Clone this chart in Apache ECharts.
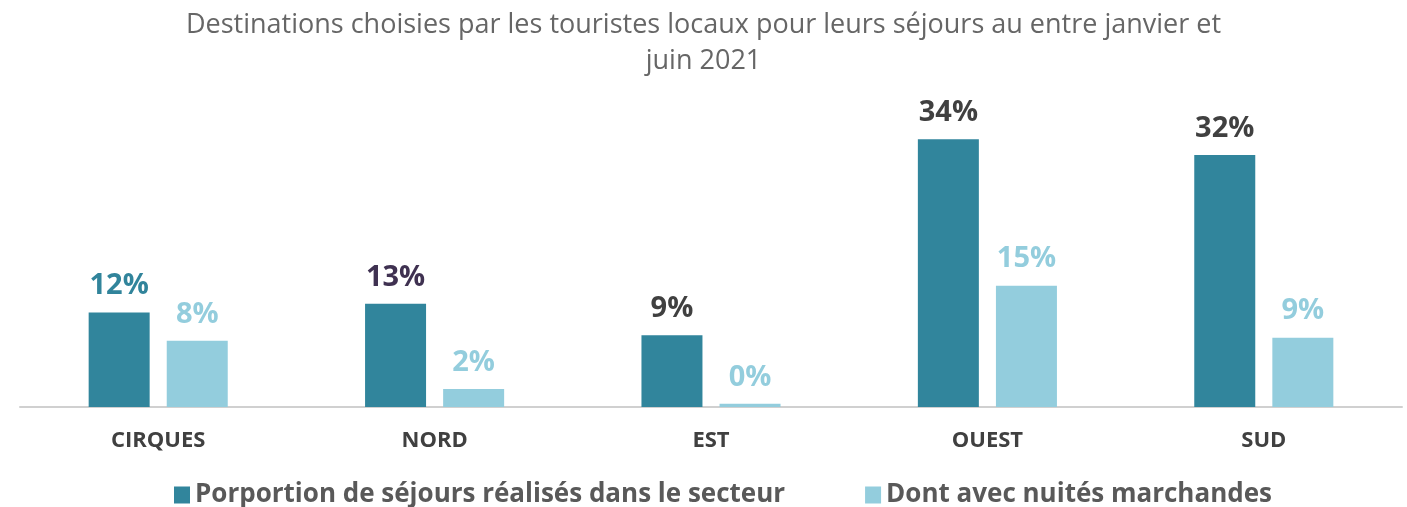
<!DOCTYPE html>
<html>
<head>
<meta charset="utf-8">
<script src="https://cdn.jsdelivr.net/npm/echarts@6/dist/echarts.min.js"></script>
<style>
  html, body { margin: 0; padding: 0; background: #fff; }
  #chart { width: 1407px; height: 507px; }
</style>
</head>
<body>
<div id="chart"></div>
<script>
// secteurs
const categories = ['CIRQUES', 'NORD', 'EST', 'OUEST', 'SUD'];
// proportion de séjours (%)
const sejours = [12, 13.1, 9.1, 34, 32];
// dont avec nuitées marchandes (%)
const marchandes = [8.4, 2.3, 0.4, 15.4, 8.8];
// couleur des étiquettes de la première série
const sejoursLabelColors = ['#31849B', '#3F3151', '#404040', '#404040', '#404040'];

const chart = echarts.init(document.getElementById('chart'));

const option = {
  animation: false,
  title: {
    text: 'Destinations choisies par les touristes locaux pour leurs séjours au entre janvier et\njuin 2021',
    left: 'center',
    top: 2,
    textStyle: {
      fontFamily: 'Open Sans',
      fontWeight: 'normal',
      fontSize: 27,
      color: '#666666',
      lineHeight: 36
    }
  },
  legend: {
    bottom: -6,
    left: 169,
    itemWidth: 16,
    itemHeight: 17,
    itemGap: 80,
    icon: 'rect',
    textStyle: {
      fontFamily: 'Open Sans',
      fontWeight: 'bold',
      fontSize: 26,
      color: '#595959'
    },
    data: ['Porportion de séjours réalisés dans le secteur', 'Dont avec nuités marchandes']
  },
  grid: {
    left: 20,
    right: 5,
    top: 92,
    bottom: 100
  },
  xAxis: {
    type: 'category',
    data: categories,
    axisTick: { show: false },
    axisLine: { lineStyle: { color: '#d0d0d0', width: 2 } },
    axisLabel: {
      margin: 23,
      fontFamily: 'Open Sans',
      fontWeight: 'bold',
      fontSize: 22,
      color: '#404040'
    }
  },
  yAxis: {
    type: 'value',
    min: 0,
    max: 40,
    show: false,
    splitLine: { show: false }
  },
  series: [
    {
      name: 'Porportion de séjours réalisés dans le secteur',
      type: 'bar',
      barWidth: 61,
      barGap: '28%',
      itemStyle: { color: '#31859C' },
      data: sejours.map((v, i) => ({
        value: v,
        label: { color: sejoursLabelColors[i] }
      })),
      label: {
        show: true,
        position: 'top',
        distance: 12,
        fontFamily: 'Open Sans',
        fontWeight: 'bold',
        fontSize: 29,
        formatter: p => Math.round(p.value) + '%'
      }
    },
    {
      name: 'Dont avec nuités marchandes',
      type: 'bar',
      barWidth: 61,
      itemStyle: { color: '#93CDDD' },
      data: marchandes,
      label: {
        show: true,
        position: 'top',
        distance: 12,
        fontFamily: 'Open Sans',
        fontWeight: 'bold',
        fontSize: 29,
        color: '#93CDDD',
        formatter: p => Math.round(p.value) + '%'
      }
    }
  ]
};

chart.setOption(option);
</script>
</body>
</html>
